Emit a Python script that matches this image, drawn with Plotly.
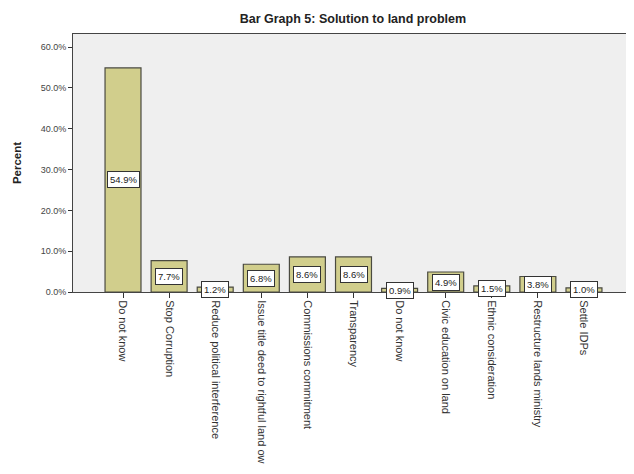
import plotly.graph_objects as go

categories = ["Do not know", "Stop Corruption", "Reduce political interference",
              "Issue title deed to rightful land ow", "Commissions commitment",
              "Transparency", "Do not know", "Civic education on land",
              "Ethnic consideration", "Restructure lands ministry", "Settle IDPs"]
values = [54.9, 7.7, 1.2, 6.8, 8.6, 8.6, 0.9, 4.9, 1.5, 3.8, 1.0]
labels = ["54.9%", "7.7%", "1.2%", "6.8%", "8.6%", "8.6%", "0.9%", "4.9%", "1.5%", "3.8%", "1.0%"]
y_ticks = [0, 10, 20, 30, 40, 50, 60]

positions = list(range(len(categories)))
font_family = "Liberation Sans, Arial, sans-serif"

fig = go.Figure()
fig.add_trace(go.Bar(
    x=positions, y=values, width=0.78,
    marker=dict(color="#d1ce8c", line=dict(color="#4a4a40", width=1.2)),
    hoverinfo="skip",
))

for p, v, t in zip(positions, values, labels):
    fig.add_annotation(x=p, y=v / 2, text=t, showarrow=False,
                       xanchor="center", yanchor="middle",
                       font=dict(size=9.5, color="#222", family=font_family),
                       bgcolor="white", bordercolor="#333", borderwidth=1,
                       borderpad=2)

fig.update_layout(
    width=626, height=466,
    margin=dict(l=65, r=3, t=26, b=182),
    paper_bgcolor="white", plot_bgcolor="#efefef",
    showlegend=False,
    font=dict(family=font_family, color="#333"),
    title=dict(text="<b>Bar Graph 5: Solution to land problem</b>",
               x=0.551, xanchor="center", y=0.978, yanchor="middle",
               font=dict(size=12.5, color="#222")),
)
fig.update_xaxes(
    range=[-1.085, 11.02], tickvals=positions, ticktext=categories,
    tickangle=90, ticks="outside", ticklen=5, tickcolor="#333",
    tickfont=dict(size=11, color="#333"),
    showline=True, linecolor="#444", linewidth=1, mirror=True,
    showgrid=False, zeroline=False,
)
fig.update_yaxes(
    range=[0, 63.2], tickvals=y_ticks, ticktext=[f"{v:.1f}%" for v in y_ticks],
    ticks="outside", ticklen=4, tickcolor="#333",
    tickfont=dict(size=9, color="#444"),
    title=dict(text="<b>Percent</b>", font=dict(size=11.5, color="#222"), standoff=16),
    showline=True, linecolor="#444", linewidth=1, mirror=True,
    showgrid=False, zeroline=False,
)

fig.write_html("out.html")
